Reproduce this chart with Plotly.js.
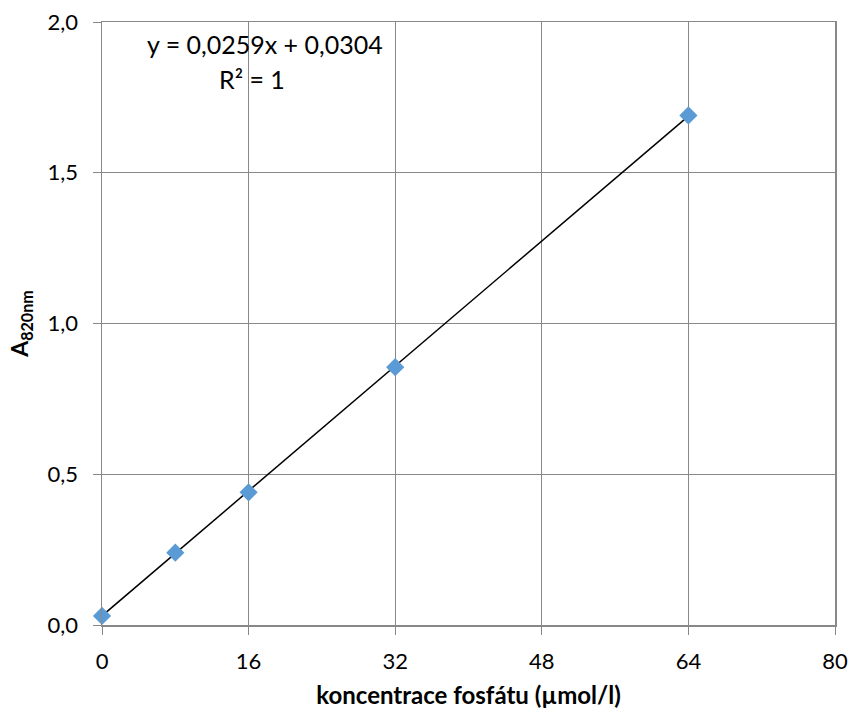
<!DOCTYPE html>
<html>
<head>
<meta charset="utf-8">
<script src="https://cdn.plot.ly/plotly-3.0.1.min.js"></script>
<style>html,body{margin:0;padding:0;background:#fff;}#chart{width:849px;height:713px;}</style>
</head>
<body>
<div id="chart"></div>
<script>
const concentration = [0, 8, 16, 32, 64];
const absorbance = [0.03, 0.24, 0.44, 0.855, 1.69];
const slope = 0.0259;
const intercept = 0.0304;
const trendX = [0, 64];
const trendY = trendX.map(x => slope * x + intercept);
const xTicks = [0, 16, 32, 48, 64, 80];
const yTicks = [0, 0.5, 1.0, 1.5, 2.0];

const font = "Lato, 'Open Sans', sans-serif";
const gridColor = '#888888';

Plotly.newPlot('chart', [
  {x: trendX, y: trendY, mode: 'lines', line: {color: '#000000', width: 1.5}, hoverinfo: 'skip', showlegend: false, cliponaxis: false},
  {x: concentration, y: absorbance, mode: 'markers', marker: {symbol: 'diamond', size: 14, color: '#5B9BD5'}, showlegend: false, cliponaxis: false}
], {
  width: 849, height: 713,
  margin: {l: 102, r: 14, t: 22, b: 88},
  paper_bgcolor: '#ffffff', plot_bgcolor: '#ffffff',
  separators: ', ',
  font: {family: font, size: 22, color: '#000000'},
  xaxis: {
    range: [0, 80], tickvals: xTicks, ticktext: xTicks.map(String),
    showgrid: true, gridcolor: gridColor, gridwidth: 1,
    showline: true, linecolor: gridColor, linewidth: 1.5, mirror: true,
    ticks: 'outside', ticklen: 8, tickcolor: gridColor, ticklabelstandoff: 8,
    zeroline: false, tickfont: {size: 22},
    title: {text: '<b>koncentrace fosfátu (µmol/l)</b>', font: {size: 24}, standoff: 14}
  },
  yaxis: {
    range: [0, 2], tickvals: yTicks, ticktext: yTicks.map(v => v.toFixed(1).replace('.', ',')),
    showgrid: true, gridcolor: gridColor, gridwidth: 1,
    showline: true, linecolor: gridColor, linewidth: 1.5, mirror: true,
    ticks: 'outside', ticklen: 8, tickcolor: gridColor, ticklabelstandoff: 10,
    zeroline: false, tickfont: {size: 22},
    title: {text: '<b>A<sub>820nm</sub></b>', font: {size: 23}, standoff: 12}
  },
  annotations: [
    {xref: 'paper', yref: 'paper', x: 0.222, y: 0.963, text: 'y = 0,0259x + 0,0304', showarrow: false, xanchor: 'center', yanchor: 'middle', font: {size: 25}},
    {xref: 'paper', yref: 'paper', x: 0.205, y: 0.906, text: 'R² = 1', showarrow: false, xanchor: 'center', yanchor: 'middle', font: {size: 25}}
  ]
}, {displayModeBar: false, staticPlot: true});
</script>
</body>
</html>
